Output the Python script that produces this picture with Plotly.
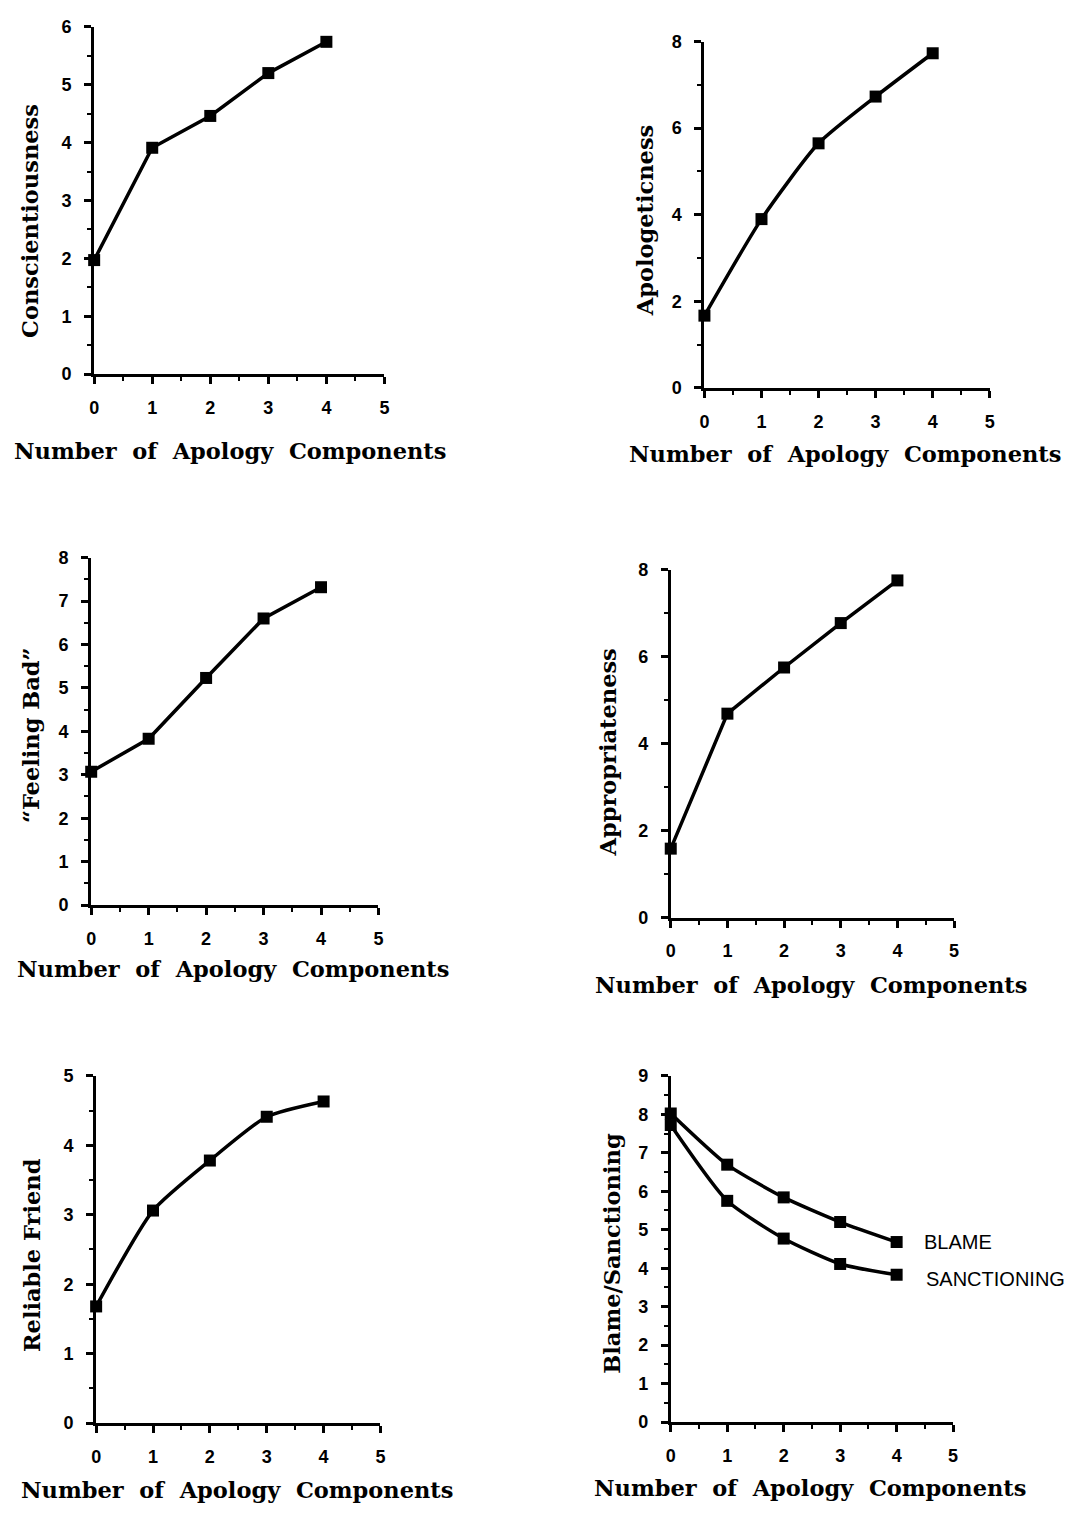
import plotly.graph_objects as go

x_components = [0, 1, 2, 3, 4]
conscientiousness = [1.97, 3.91, 4.46, 5.20, 5.74]
apologeticness = [1.67, 3.90, 5.65, 6.73, 7.73]
feeling_bad = [3.07, 3.83, 5.23, 6.60, 7.32]
appropriateness = [1.59, 4.69, 5.75, 6.77, 7.75]
reliable_friend = [1.68, 3.06, 3.78, 4.41, 4.63]
blame = [8.02, 6.69, 5.84, 5.20, 4.68]
sanctioning = [7.72, 5.75, 4.77, 4.11, 3.83]

x_title = "Number\u00a0\u00a0of\u00a0\u00a0Apology\u00a0\u00a0Components"
W, H = 1075, 1518

# panel pixel boxes: (x0, x1, y_bottom, y_top)
panels = [
    dict(box=(90, 383, 369, 17), ymax=6, dt=1, mdt=0.5, ytitle="Conscientiousness",
         ytx=25, yty=214, xtx=227, xty=447, series=[conscientiousness], shape="linear"),
    dict(box=(706, 994, 383, 32), ymax=8, dt=2, mdt=1, ytitle="Apologeticness",
         ytx=646, yty=213, xtx=848, xty=450, series=[apologeticness], shape="spline"),
    dict(box=(87, 377, 907, 555), ymax=8, dt=1, mdt=0.5, ytitle="\u201cFeeling Bad\u201d",
         ytx=27, yty=735, xtx=230, xty=972, series=[feeling_bad], shape="linear"),
    dict(box=(672, 958, 920, 567), ymax=8, dt=2, mdt=1, ytitle="Appropriateness",
         ytx=609, yty=752, xtx=814, xty=988, series=[appropriateness], shape="linear"),
    dict(box=(92, 379, 1432, 1080), ymax=5, dt=1, mdt=0.5, ytitle="Reliable Friend",
         ytx=28, yty=1262, xtx=234, xty=1500, series=[reliable_friend], shape="spline"),
    dict(box=(672, 957, 1431, 1080), ymax=9, dt=1, mdt=0.5, ytitle="Blame/Sanctioning",
         ytx=613, yty=1260, xtx=813, xty=1498, series=[blame, sanctioning], shape="spline"),
]

fig = go.Figure()
annotations = []
title_font = dict(family="DejaVu Serif", size=22.5, color="black")
tick_font = dict(family="Liberation Sans", size=18, color="black", weight="bold")

for i, p in enumerate(panels, start=1):
    x0, x1, yb, yt = p["box"]
    xa = "x" if i == 1 else f"x{i}"
    ya = "y" if i == 1 else f"y{i}"
    for s in p["series"]:
        fig.add_trace(go.Scatter(
            x=x_components, y=s, xaxis=xa, yaxis=ya, mode="lines+markers",
            line=dict(color="black", width=3.5, shape=p["shape"], smoothing=0.6),
            marker=dict(symbol="square", size=12, color="black"),
            showlegend=False, cliponaxis=False, hoverinfo="skip"))
    common = dict(showgrid=False, zeroline=False, showline=True, linecolor="black",
                  linewidth=3, ticks="outside", ticklen=7, tickwidth=2.5,
                  tickcolor="black", tickfont=tick_font)
    fig.update_layout(**{
        ("xaxis" if i == 1 else f"xaxis{i}"): dict(
            domain=[x0 / W, x1 / W], anchor=ya, range=[0, 5], tick0=0, dtick=1,
            ticklabelstandoff=8,
            minor=dict(ticks="outside", dtick=0.5, ticklen=4, tickwidth=2, tickcolor="black"),
            **common),
        ("yaxis" if i == 1 else f"yaxis{i}"): dict(
            domain=[1 - yb / H, 1 - yt / H], anchor=xa, range=[0, p["ymax"]],
            tick0=0, dtick=p["dt"], ticklabelstandoff=9,
            minor=dict(ticks="outside", dtick=p["mdt"], ticklen=4, tickwidth=2, tickcolor="black"),
            **common),
    })
    annotations.append(dict(
        text="<b>" + x_title + "</b>", x=p["xtx"] / W, y=1 - p["xty"] / H,
        xref="paper", yref="paper", showarrow=False, font=title_font,
        xanchor="center", yanchor="middle"))
    annotations.append(dict(
        text="<b>" + p["ytitle"] + "</b>", x=p["ytx"] / W, y=1 - p["yty"] / H,
        xref="paper", yref="paper", showarrow=False, font=title_font, textangle=-90,
        xanchor="center", yanchor="middle"))

label_font = dict(family="Liberation Sans", size=20, color="black")
annotations.append(dict(text="BLAME", x=4.45, y=blame[-1], xref="x6", yref="y6",
                        showarrow=False, font=label_font, xanchor="left", yanchor="middle"))
annotations.append(dict(text="SANCTIONING", x=4.48, y=sanctioning[-1] - 0.1, xref="x6", yref="y6",
                        showarrow=False, font=label_font, xanchor="left", yanchor="middle"))

fig.update_layout(width=W, height=H, margin=dict(l=0, r=0, t=0, b=0),
                  paper_bgcolor="white", plot_bgcolor="white",
                  annotations=annotations, hovermode=False)
fig.write_html("out.html", config={"displayModeBar": False},
               post_script="document.body.style.margin='0px';")
